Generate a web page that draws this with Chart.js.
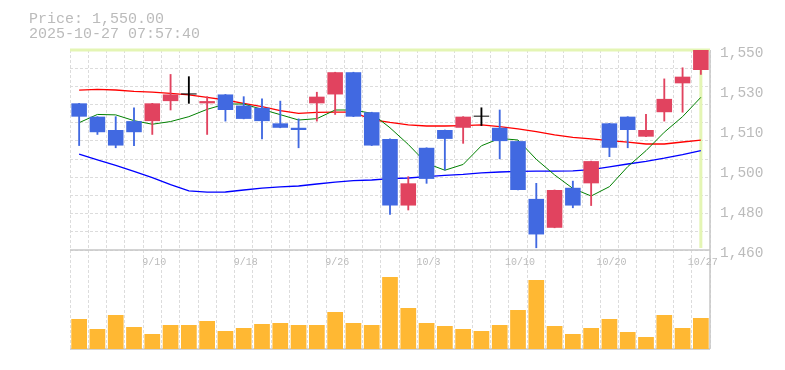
<!DOCTYPE html>
<html>
<head>
<meta charset="utf-8">
<title>Price chart</title>
<script src="https://cdn.jsdelivr.net/npm/chart.js@4.4.1/dist/chart.umd.min.js"></script>
<style>
  html, body { margin: 0; padding: 0; background: #fff; }
  canvas { display: block; }
</style>
</head>
<body>
<canvas id="chartPrice" width="785" height="370"></canvas>
<script>
// trading days (label shown every 5th day)
const dates = ['9/4', '9/5', '9/8', '9/9', '9/10', '9/11', '9/12', '9/16', '9/17', '9/18',
    '9/19', '9/22', '9/24', '9/25', '9/26', '9/29', '9/30', '10/1', '10/2', '10/3',
    '10/6', '10/7', '10/8', '10/9', '10/10', '10/14', '10/15', '10/16', '10/17', '10/20',
    '10/21', '10/22', '10/23', '10/24', '10/27'];

const openPrices = [1526, 1520, 1514, 1518, 1518, 1527, 1530, 1526, 1530, 1525,
    1524, 1517, 1515, 1526, 1530, 1540, 1522, 1510, 1480, 1506,
    1514, 1515, 1520, 1515, 1509, 1483, 1470, 1488, 1490, 1517,
    1520, 1511, 1522, 1535, 1541];
const highPrices = [1526, 1520, 1520, 1524, 1526, 1539, 1538, 1529, 1530, 1529,
    1528, 1527, 1519, 1531, 1540, 1540, 1522, 1510, 1493, 1506,
    1514, 1520, 1524, 1523, 1509, 1490, 1487, 1491, 1500, 1517,
    1520, 1521, 1537, 1542, 1550];
const lowPrices = [1507, 1512, 1506, 1507, 1512, 1523, 1526, 1512, 1518, 1519,
    1510, 1515, 1506, 1518, 1521, 1520, 1507, 1476, 1478, 1490,
    1496, 1508, 1516, 1501, 1487, 1461, 1470, 1479, 1480, 1502,
    1506, 1511, 1518, 1522, 1539];
const closePrices = [1520, 1513, 1507, 1513, 1526, 1530, 1530, 1527, 1523, 1519,
    1518, 1515, 1514, 1529, 1540, 1520, 1507, 1480, 1490, 1492,
    1510, 1520, 1520, 1509, 1487, 1467, 1487, 1480, 1500, 1506,
    1514, 1514, 1528, 1538, 1550];

const volumes = [30, 20, 34, 22, 15, 24, 24, 28, 18, 21,
    25, 26, 24, 24, 37, 26, 24, 72, 41, 26,
    23, 20, 18, 24, 39, 69, 23, 15, 21, 30,
    17, 12, 34, 21, 31];

// moving averages
const maShort = [1517.3, 1521.0, 1520.8, 1518.2, 1516.6, 1517.8, 1520.0, 1523.3, 1525.7, 1525.7,
    1523.3, 1520.9, 1518.5, 1519.1, 1523.0, 1523.0, 1521.5, 1515.0, 1507.5, 1499.0,
    1495.9, 1498.5, 1506.9, 1510.2, 1509.5, 1500.8, 1493.8, 1487.7, 1484.3, 1488.5,
    1497.5, 1504.7, 1513.0, 1520.0, 1528.7];
const maMid = [1531.9, 1532.3, 1532.0, 1531.4, 1531.0, 1530.5, 1529.8, 1528.7, 1527.5, 1526.0,
    1524.5, 1522.7, 1521.5, 1521.9, 1522.0, 1522.0, 1518.7, 1517.4, 1516.3, 1515.8,
    1515.8, 1516.0, 1516.3, 1515.5, 1514.5, 1513.3, 1511.8, 1510.7, 1510.0, 1509.2,
    1508.5, 1507.7, 1507.7, 1508.6, 1509.4];
const maLong = [1503.1, 1500.6, 1498.1, 1495.4, 1492.6, 1489.4, 1486.6, 1486.0, 1486.1, 1487.0,
    1487.8, 1488.4, 1488.8, 1489.7, 1490.5, 1491.2, 1491.5, 1492.1, 1492.4, 1493.0,
    1493.6, 1494.0, 1494.7, 1495.1, 1495.4, 1495.5, 1495.5, 1495.6, 1496.2, 1497.4,
    1498.7, 1499.9, 1501.3, 1502.9, 1504.7];

const priceMin = 1460;
const priceMax = 1550;
const priceTicks = [1460, 1478, 1496, 1514, 1532, 1550];
const priceTickLabels = ['1,460', '1,480', '1,500', '1,510', '1,530', '1,550'];
const gridRows = 11;
const volumeMax = 99;

const timestamp = '2025-10-27 07:57:40';

const COLOR_UP = '#e1435f';
const COLOR_DOWN = '#4169e1';
const COLOR_TEXT = '#bbbbbb';
const MONO = '"Liberation Mono", "DejaVu Sans Mono", monospace';

function candleColor(i) {
    if (closePrices[i] > openPrices[i]) return COLOR_UP;
    if (closePrices[i] < openPrices[i]) return COLOR_DOWN;
    return '#000000';
}

const candleColors = closePrices.map((c, i) => candleColor(i));

const overlayPlugin = {
    id: 'overlay',
    beforeDatasetsDraw(chart) {
        const { ctx, chartArea, scales } = chart;
        const yPrice = scales.y;
        ctx.save();
        // marco
        ctx.strokeStyle = '#c6c6c6';
        ctx.lineWidth = 1.5;
        ctx.beginPath();
        ctx.moveTo(chartArea.left, yPrice.bottom);
        ctx.lineTo(chartArea.right, yPrice.bottom);
        ctx.moveTo(chartArea.left, chartArea.bottom);
        ctx.lineTo(chartArea.right, chartArea.bottom);
        ctx.moveTo(chartArea.right, chartArea.top);
        ctx.lineTo(chartArea.right, chartArea.bottom);
        ctx.stroke();

        // precio actual
        const last = closePrices.length - 1;
        const py = yPrice.getPixelForValue(closePrices[last]);
        const px = scales.x.getPixelForValue(last);
        ctx.strokeStyle = '#e4f5b4';
        ctx.lineWidth = 3;
        ctx.beginPath();
        ctx.moveTo(chartArea.left, py);
        ctx.lineTo(chartArea.right, py);
        ctx.moveTo(px, chartArea.top);
        ctx.lineTo(px, yPrice.bottom - 2);
        ctx.stroke();
        ctx.restore();
    },
    afterDatasetsDraw(chart) {
        const { ctx, scales } = chart;
        ctx.save();
        ctx.fillStyle = COLOR_TEXT;

        ctx.font = '10px ' + MONO;
        ctx.textAlign = 'center';
        ctx.textBaseline = 'middle';
        dates.forEach((d, i) => {
            if (i % 5 === 4) {
                ctx.fillText(d, scales.x.getPixelForValue(i) + 2, scales.vol.top + 12);
            }
        });

        const last = closePrices.length - 1;
        const priceText = 'Price: ' + closePrices[last].toLocaleString('en-US', { minimumFractionDigits: 2 });
        ctx.font = '15px ' + MONO;
        ctx.textAlign = 'left';
        ctx.textBaseline = 'alphabetic';
        ctx.fillText(priceText, 29, 22.5);
        ctx.fillText(timestamp, 29, 37.5);
        ctx.restore();
    }
};

const ctx = document.getElementById('chartPrice');

new Chart(ctx, {
    type: 'bar',
    data: {
        labels: dates,
        datasets: [{
            label: 'Body',
            data: openPrices.map((o, i) => [o, closePrices[i]]),
            backgroundColor: candleColors,
            yAxisID: 'y',
            grouped: false,
            barPercentage: 0.85,
            categoryPercentage: 1,
            minBarLength: 1,
            order: 0
        }, {
            label: 'Wick',
            data: lowPrices.map((l, i) => [l, highPrices[i]]),
            backgroundColor: candleColors,
            yAxisID: 'y',
            grouped: false,
            barThickness: 1.2,
            order: 1
        }, {
            type: 'line',
            label: 'MA short',
            data: maShort,
            borderColor: '#008000',
            borderWidth: 1,
            pointRadius: 0,
            tension: 0,
            yAxisID: 'y',
            order: 2
        }, {
            type: 'line',
            label: 'MA mid',
            data: maMid,
            borderColor: '#ff0000',
            borderWidth: 1.3,
            pointRadius: 0,
            tension: 0,
            yAxisID: 'y',
            order: 3
        }, {
            type: 'line',
            label: 'MA long',
            data: maLong,
            borderColor: '#0000ff',
            borderWidth: 1.3,
            pointRadius: 0,
            tension: 0,
            yAxisID: 'y',
            order: 4
        }, {
            label: 'Volume',
            data: volumes,
            backgroundColor: '#ffb833',
            yAxisID: 'vol',
            grouped: false,
            barPercentage: 0.86,
            categoryPercentage: 1,
            order: 5
        }]
    },
    options: {
        responsive: false,
        devicePixelRatio: 1,
        animation: false,
        events: [],
        layout: {
            padding: { left: 70, top: 50, right: 0, bottom: 21 }
        },
        plugins: {
            legend: { display: false },
            tooltip: { enabled: false }
        },
        scales: {
            x: {
                offset: true,
                grid: { offset: true, color: '#dcdcdc', lineWidth: 1, drawTicks: false },
                border: { display: false, dash: [3, 2] },
                ticks: { display: false }
            },
            y: {
                position: 'right',
                stack: 'panels',
                stackWeight: 200,
                weight: 0,
                min: priceMin,
                max: priceMax,
                afterBuildTicks: scale => {
                    scale.ticks = priceTicks.map(v => ({ value: v }));
                },
                afterFit: scale => {
                    scale.width = 75;
                },
                grid: { display: false, drawTicks: false },
                border: { display: false },
                ticks: {
                    color: COLOR_TEXT,
                    font: { family: MONO, size: 14.5 },
                    padding: 10,
                    labelOffset: 3,
                    autoSkip: false,
                    callback: (v, i) => priceTickLabels[i]
                }
            },
            vol: {
                position: 'right',
                stack: 'panels',
                stackWeight: 99,
                weight: 1,
                min: 0,
                max: volumeMax,
                grid: { display: false, drawTicks: false },
                border: { display: false },
                ticks: { display: false }
            },
            volGrid: {
                position: 'left',
                stack: 'panelsLeft',
                stackWeight: 99,
                weight: 0,
                min: 0,
                max: volumeMax,
                grid: { display: false, drawTicks: false },
                border: { display: false },
                ticks: { display: false }
            },
            yGrid: {
                position: 'left',
                stack: 'panelsLeft',
                stackWeight: 200,
                weight: 1,
                min: priceMin,
                max: priceMax,
                afterBuildTicks: scale => {
                    const step = (priceMax - priceMin) / gridRows;
                    scale.ticks = Array.from({ length: gridRows + 1 }, (_, k) => ({ value: priceMin + k * step }));
                },
                grid: { color: '#dcdcdc', lineWidth: 1, drawTicks: false },
                border: { display: false, dash: [3, 2] },
                ticks: { display: false }
            }
        }
    },
    plugins: [overlayPlugin]
});
</script>
</body>
</html>
